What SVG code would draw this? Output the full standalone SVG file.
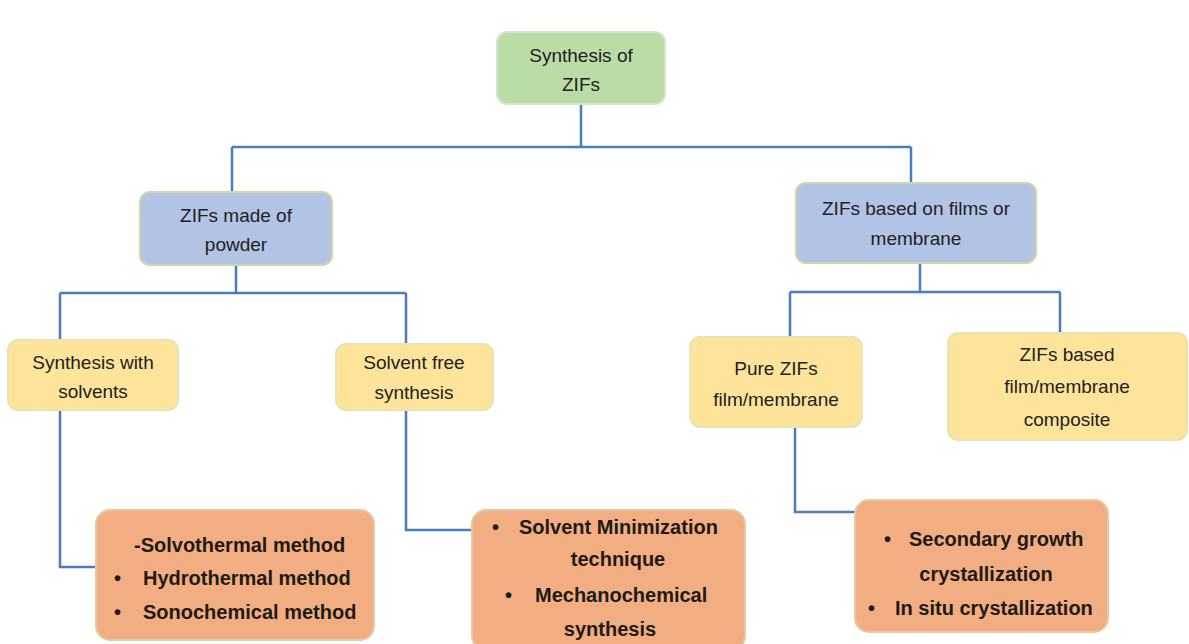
<svg xmlns="http://www.w3.org/2000/svg" width="1189" height="644" viewBox="0 0 1189 644">
<defs>
<style>
.green{fill:#bbdca6;stroke:#d2e8c4;stroke-width:2}
.blue{fill:#b3c3e5;stroke:#c9d8a8;stroke-width:2}
.yellow{fill:#fde49a;stroke:#e6e4b0;stroke-width:2}
.orange{fill:#f2ae82;stroke:#e8c8a0;stroke-width:2}
.t{font-family:"Liberation Sans",Arial,sans-serif;font-size:19px;fill:#222222;text-anchor:middle}
.b{font-family:"Liberation Sans",Arial,sans-serif;font-size:20px;font-weight:bold;fill:#1e1a14}
.conn{fill:none;stroke:#4a7cc4;stroke-width:2.5}
</style>
</defs>
<rect width="1189" height="644" fill="#ffffff"/>
<g id="connectors">
<path class="conn" d="M581,104 V147 M232,147 H911 M232,147 V192 M911,147 V183"/>
<path class="conn" d="M236,265 V293 M60,293 H406 M60,293 V340 M406,293 V344"/>
<path class="conn" d="M920,263 V292 M790,292 H1060 M790,292 V337 M1060,292 V333"/>
<path class="conn" d="M60,410 V567 H96"/>
<path class="conn" d="M406,410 V530 H474"/>
<path class="conn" d="M795,427 V512 H855"/>
</g>
<g id="root">
<rect class="green" x="497" y="32" width="168" height="72" rx="10"/>
<text class="t" x="581" y="62">Synthesis of</text>
<text class="t" x="581" y="91">ZIFs</text>
</g>
<g id="powder">
<rect class="blue" x="140" y="192" width="192" height="73" rx="10"/>
<text class="t" x="236" y="222">ZIFs made of</text>
<text class="t" x="236" y="251">powder</text>
</g>
<g id="films">
<rect class="blue" x="796" y="183" width="240" height="80" rx="10"/>
<text class="t" x="916" y="215">ZIFs based on films or</text>
<text class="t" x="916" y="245">membrane</text>
</g>
<g id="with-solvents">
<rect class="yellow" x="8" y="340" width="170" height="70" rx="10"/>
<text class="t" x="93" y="369">Synthesis with</text>
<text class="t" x="93" y="398">solvents</text>
</g>
<g id="solvent-free">
<rect class="yellow" x="336" y="344" width="157" height="66" rx="10"/>
<text class="t" x="414" y="369">Solvent free</text>
<text class="t" x="414" y="399">synthesis</text>
</g>
<g id="pure">
<rect class="yellow" x="690" y="337" width="172" height="90" rx="10"/>
<text class="t" x="776" y="375">Pure ZIFs</text>
<text class="t" x="776" y="406">film/membrane</text>
</g>
<g id="composite">
<rect class="yellow" x="948" y="333" width="239" height="107" rx="10"/>
<text class="t" x="1067" y="361">ZIFs based</text>
<text class="t" x="1067" y="393">film/membrane</text>
<text class="t" x="1067" y="426">composite</text>
</g>
<g id="methods-solvent">
<rect class="orange" x="96" y="510" width="278" height="130" rx="14"/>
<text class="b" x="134" y="552">-Solvothermal method</text>
<text class="b" x="114" y="585">•</text>
<text class="b" x="143" y="585">Hydrothermal method</text>
<text class="b" x="114" y="619">•</text>
<text class="b" x="143" y="619">Sonochemical method</text>
</g>
<g id="methods-free">
<rect class="orange" x="472" y="510" width="273" height="140" rx="14"/>
<text class="b" x="492" y="534">•</text>
<text class="b" x="519" y="534">Solvent Minimization</text>
<text class="b" x="618" y="566" text-anchor="middle">technique</text>
<text class="b" x="505" y="602">•</text>
<text class="b" x="535" y="602">Mechanochemical</text>
<text class="b" x="610" y="636" text-anchor="middle">synthesis</text>
</g>
<g id="methods-film">
<rect class="orange" x="855" y="500" width="253" height="132" rx="14"/>
<text class="b" x="884" y="546">•</text>
<text class="b" x="909" y="546">Secondary growth</text>
<text class="b" x="986" y="581" text-anchor="middle">crystallization</text>
<text class="b" x="868" y="615">•</text>
<text class="b" x="895" y="615">In situ crystallization</text>
</g>
</svg>
